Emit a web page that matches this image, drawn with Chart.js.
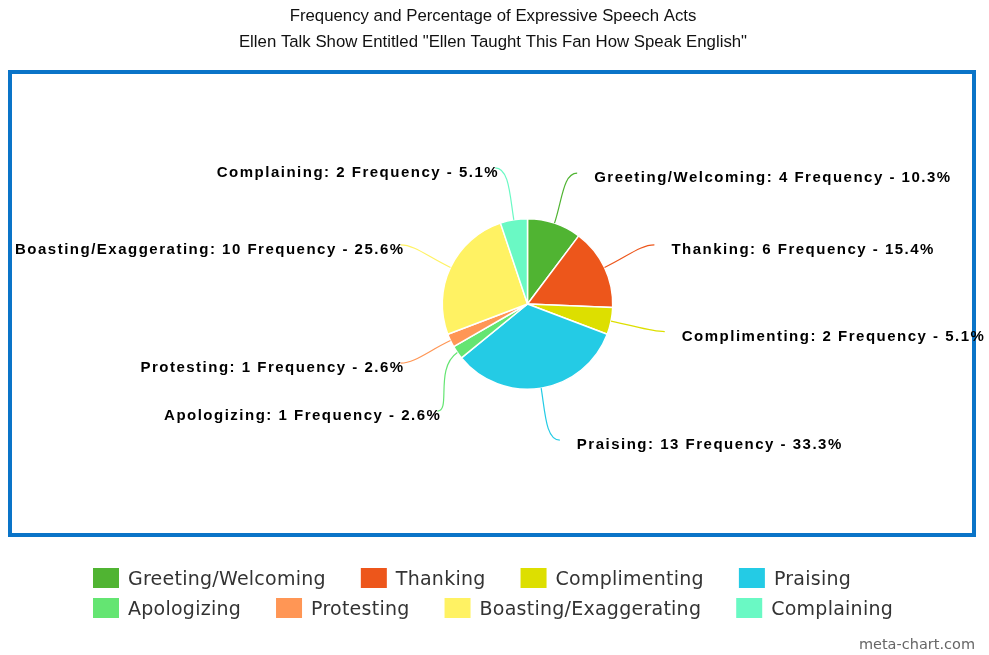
<!DOCTYPE html>
<html>
<head>
<meta charset="utf-8">
<script src="https://cdn.jsdelivr.net/npm/chart.js@4"></script>
<style>
  html, body { margin: 0; padding: 0; background: #fff; }
  #wrap { width: 989px; height: 655px; position: relative; }
</style>
</head>
<body>
<div id="wrap"><canvas id="myChart"></canvas></div>
<script>
// data
const categories = ["Greeting/Welcoming", "Thanking", "Complimenting", "Praising",
  "Apologizing", "Protesting", "Boasting/Exaggerating", "Complaining"];
const frequencies = [4, 6, 2, 13, 1, 1, 10, 2];
const colors = ["#50B432", "#ED561B", "#DDDF00", "#24CBE5", "#64E572", "#FF9655", "#FFF263", "#6AF9C4"];
const titleLines = ["Frequency and Percentage of Expressive Speech Acts",
  "Ellen Talk Show Entitled \"Ellen Taught This Fan How Speak English\""];
const credit = "meta-chart.com";

const total = frequencies.reduce((a, b) => a + b, 0);
const labelText = (i) =>
  categories[i] + ": " + frequencies[i] + " Frequency - " + (frequencies[i] / total * 100).toFixed(1) + "%";

// title, frame, slice labels, legend and credit drawn around the pie
const decor = {
  id: "decor",
  beforeDraw(chart) {
    const ctx = chart.ctx;
    ctx.save();
    ctx.fillStyle = "#fff";
    ctx.fillRect(0, 0, chart.width, chart.height);
    ctx.fillStyle = "#111";
    ctx.font = "16.8px 'Liberation Sans', Arial, sans-serif";
    ctx.textAlign = "center";
    ctx.textBaseline = "middle";
    ctx.fillText(titleLines[0], 493, 16);
    ctx.fillText(titleLines[1], 493, 42);
    ctx.strokeStyle = "#0a74c8";
    ctx.lineWidth = 4;
    ctx.strokeRect(10, 72, 964, 463);
    ctx.restore();
  },
  afterDatasetsDraw(chart) {
    const ctx = chart.ctx;
    const meta = chart.getDatasetMeta(0);
    const labelR = 138, connR = 140, minGap = 48;
    let items = meta.data.map((arc, i) => {
      const p = arc.getProps(["x", "y", "startAngle", "endAngle", "outerRadius"], true);
      const mid = (p.startAngle + p.endAngle) / 2;
      return { i, cx: p.x, cy: p.y, r: p.outerRadius, mid,
        right: Math.cos(mid) >= 0, ly: p.y + Math.sin(mid) * labelR };
    });
    [true, false].forEach(side => {
      const s = items.filter(it => it.right === side).sort((a, b) => a.ly - b.ly);
      for (let k = 1; k < s.length; k++) {
        if (s[k].ly - s[k - 1].ly < minGap) s[k].ly = s[k - 1].ly + minGap;
      }
    });
    ctx.save();
    items.forEach(it => {
      const dy = it.ly - it.cy;
      const dx = Math.sqrt(Math.max(connR * connR - dy * dy, 0));
      const ax = it.right ? it.cx + dx : it.cx - dx;
      const ay = it.ly;
      const px = it.cx + Math.cos(it.mid) * it.r;
      const py = it.cy + Math.sin(it.mid) * it.r;
      const dist = Math.hypot(ax - px, ay - py);
      ctx.beginPath();
      ctx.moveTo(px, py);
      ctx.bezierCurveTo(px + Math.cos(it.mid) * dist * 0.45, py + Math.sin(it.mid) * dist * 0.45,
        it.right ? ax - 14 : ax + 14, ay, ax, ay);
      ctx.strokeStyle = colors[it.i];
      ctx.lineWidth = 1.2;
      ctx.stroke();
      ctx.fillStyle = "#000";
      ctx.font = "bold 15px 'Liberation Sans', Arial, sans-serif";
      ctx.letterSpacing = "1.5px";
      ctx.textBaseline = "middle";
      if (it.right) {
        ctx.textAlign = "left";
        ctx.fillText(labelText(it.i), ax + 17, ay + 5);
      } else {
        ctx.textAlign = "right";
        ctx.fillText(labelText(it.i), ax + 4, ay + 5);
      }
    });

    // legend, flowing left to right
    ctx.font = "19px 'DejaVu Sans', sans-serif";
    ctx.letterSpacing = "0.25px";
    ctx.textAlign = "left";
    ctx.textBaseline = "middle";
    let lx = 93, ly = 578;
    categories.forEach((c, i) => {
      const w = 26 + 9 + ctx.measureText(c).width;
      if (lx + w > 950) { lx = 93; ly += 30; }
      ctx.fillStyle = colors[i];
      ctx.fillRect(lx, ly - 10, 26, 20);
      ctx.fillStyle = "#333";
      ctx.fillText(c, lx + 35, ly + 2);
      lx += w + 35;
    });

    ctx.letterSpacing = "0px";
    ctx.fillStyle = "#666";
    ctx.font = "14.5px 'DejaVu Sans', sans-serif";
    ctx.textAlign = "right";
    ctx.fillText(credit, 975, 645);
    ctx.restore();
  }
};

var ctx = document.getElementById("myChart");
var myChart = new Chart(ctx, {
  type: "pie",
  data: {
    labels: categories,
    datasets: [
      {
        label: "Frequency",
        data: frequencies,
        backgroundColor: colors,
        borderColor: "#fff",
        borderWidth: 1.5,
      },
    ],
  },
  options: {
    responsive: true,
    maintainAspectRatio: false,
    animation: false,
    layout: { padding: { left: 441.5, right: 375.5, top: 218, bottom: 265 } },
    plugins: {
      legend: { display: false },
      title: { display: false },
      tooltip: { enabled: false },
    },
  },
  plugins: [decor],
});
</script>
</body>
</html>
